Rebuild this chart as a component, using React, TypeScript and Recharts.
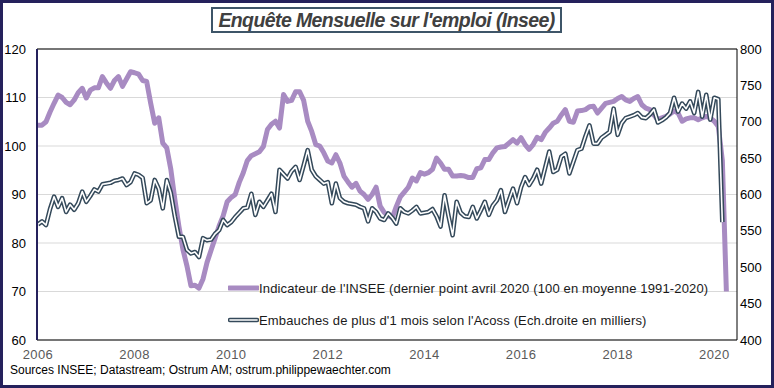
import React from "react";
import {
  LineChart,
  Line,
  XAxis,
  YAxis,
  CartesianGrid,
  ReferenceLine,
} from "recharts";

// Indicateur INSEE, mensuel, janv. 2006 -> avr. 2020
const insee = [
  104.3, 104.3, 105, 107, 108.8, 110.5, 110, 109, 108.5, 109.5, 111, 111.9,
  109.9, 111.5, 112, 112, 114.3, 113, 111.9, 113.5, 114.3, 112.3, 113.8, 115.3,
  115.1, 114.8, 113.5, 113.3, 108.8, 104.7, 105.8, 100.6, 99.6, 95.2, 89, 83.5,
  78.7, 75.3, 71.2, 71.3, 70.7, 72.6, 76, 78.5, 81, 83.5, 85.6, 88.5,
  89.4, 90, 92.5, 94.5, 97, 98, 98.4, 98.8, 99.9, 103.4, 104.5, 105.1,
  103.7, 110.6, 109.2, 109.4, 111.2, 111.2, 109.4, 105.1, 103, 100.3, 100, 98.6,
  96.9, 96.5, 98.2, 96.5, 93.8, 92.6, 91.5, 92.3, 90.7, 90, 89, 90,
  91.5, 87.6, 86.3, 85.6, 85.2, 87.5, 89.5, 90.5, 91.5, 93.4, 92.8, 94.5,
  94.2, 94.5, 95.2, 97.5, 96.5, 95.2, 95.2, 93.8, 93.8, 93.9, 93.8, 93.5,
  93.5, 95.3, 95.5, 97.2, 97.2, 98.6, 99.6, 99.8, 99.9, 100.6, 101.3, 100.6,
  101.7, 100.3, 99.3, 100.3, 101.8, 101.3, 102.8, 103.7, 104.7, 105.1, 106.4, 107.5,
  105.1, 104.9, 107.2, 107.3, 107.5, 108.1, 108.2, 106.8, 107.8, 108.8, 109, 109.2,
  109.8, 110.2, 109.5, 109.2, 109.8, 110.2, 108.5, 107.8, 107.5, 106.4, 105.4, 105.8,
  106.1, 106.6, 107.2, 106.8, 105.1, 105.6, 105.8, 105.8, 105.4, 105.8, 106.1, 105.8,
  105.1, 104, 97, 70,
];

// Embauches > 1 mois (Acoss), milliers, janv. 2006 -> mars 2020
const acoss = [
  559, 563, 558, 580, 597, 583, 595, 576, 586, 579, 588, 604,
  590, 598, 607, 604, 614, 615, 616, 619, 620, 622, 613, 617,
  629, 627, 623, 588, 592, 620, 608, 581, 620, 602, 570, 542,
  542, 524, 519, 521, 514, 540, 537, 538, 546, 551, 565, 558,
  562, 569, 575, 581, 582, 601, 572, 590, 583, 592, 601, 576,
  634, 628, 622, 632, 638, 620, 640, 661, 634, 625, 620, 615,
  617, 588, 615, 595, 590, 588, 587, 586, 583, 581, 563, 581,
  576, 567, 565, 574, 568, 560, 581, 576, 574, 578, 583, 574,
  575, 576, 580, 570, 556, 599, 570, 544, 590, 575, 570, 569,
  583, 567, 578, 590, 572, 585, 592, 606, 576, 592, 608, 588,
  610, 624, 613, 622, 634, 615, 637, 659, 631, 634, 652, 656,
  629, 645, 661, 663, 680, 695, 670, 670, 678, 682, 686, 718,
  682, 698, 705, 707, 709, 712, 706, 705, 710, 717, 699, 702,
  706, 712, 733, 714, 725, 718, 728, 712, 741, 707, 737, 703,
  733, 731, 562,
];

const yearTicks = [2006, 2008, 2010, 2012, 2014, 2016, 2018, 2020];
const leftTicks = [60, 70, 80, 90, 100, 110, 120];
const rightTicks = [400, 450, 500, 550, 600, 650, 700, 750, 800];

const data = insee.map((v, i) => ({
  t: 2006 + i / 12,
  insee: v,
  acoss: i < acoss.length ? acoss[i] : null,
}));

const FONT = '"Liberation Sans", Arial, sans-serif';
const PURPLE = "#a88bc2";
const SLATE = "#34495a";

export default function App() {
  return (
    <div
      style={{
        position: "absolute",
        left: 0,
        top: 0,
        width: 774,
        height: 388,
        background: "#fff",
        fontFamily: FONT,
      }}
    >
      <LineChart
        width={774}
        height={388}
        data={data}
        margin={{ top: 49, right: 0, left: 0, bottom: 28 }}
      >
        <CartesianGrid
          yAxisId="left"
          vertical={false}
          stroke="#d9d9d9"
          strokeWidth={1}
        />
        <XAxis
          dataKey="t"
          type="number"
          domain={[2005.98, 2020.47]}
          ticks={yearTicks}
          allowDataOverflow
          height={20}
          tickLine={false}
          tickSize={0}
          tickMargin={10}
          axisLine={{ stroke: "#000" }}
          tick={{ fill: "#595959", fontSize: 13, fontFamily: FONT, letterSpacing: 0.4 }}
        />
        <YAxis
          yAxisId="left"
          domain={[60, 120]}
          ticks={leftTicks}
          width={37}
          tickLine={false}
          tickSize={0}
          tickMargin={11}
          axisLine={{ stroke: "#25215c", strokeWidth: 2 }}
          tick={{ fill: "#000", fontSize: 13, fontFamily: FONT }}
        />
        <YAxis
          yAxisId="right"
          orientation="right"
          domain={[400, 800]}
          ticks={rightTicks}
          width={37}
          tickLine={false}
          tickSize={0}
          tickMargin={3}
          axisLine={{ stroke: "#000" }}
          tick={{ fill: "#000", fontSize: 13, fontFamily: FONT }}
        />
        <ReferenceLine yAxisId="left" y={120} stroke="#000" />
        <Line
          yAxisId="left"
          dataKey="insee"
          stroke={PURPLE}
          strokeWidth={5}
          dot={false}
          strokeLinejoin="round"
          isAnimationActive={false}
        />
        <Line
          yAxisId="right"
          dataKey="acoss"
          stroke={SLATE}
          strokeWidth={4.6}
          dot={false}
          strokeLinejoin="round"
          connectNulls={false}
          isAnimationActive={false}
        />
        <Line
          yAxisId="right"
          dataKey="acoss"
          stroke="#fff"
          strokeWidth={1.6}
          dot={false}
          strokeLinejoin="round"
          connectNulls={false}
          isAnimationActive={false}
        />
      </LineChart>

      {/* titre */}
      <div
        style={{
          position: "absolute",
          left: 211,
          top: 7,
          width: 351,
          height: 26,
          boxSizing: "border-box",
          border: "2px solid #3e5568",
          display: "flex",
          alignItems: "center",
          justifyContent: "center",
          fontWeight: "bold",
          fontStyle: "italic",
          fontSize: 19.5,
          letterSpacing: -0.6,
          color: "#404040",
          whiteSpace: "nowrap",
        }}
      >
        Enquête Mensuelle sur l'emploi (Insee)
      </div>

      {/* légende */}
      <div style={{ position: "absolute", left: 228, top: 279, fontSize: 13, color: "#1a1a1a", letterSpacing: 0.15 }}>
        <div style={{ display: "flex", alignItems: "center", height: 18 }}>
          <svg width={31} height={8}>
            <line x1={1} y1={4} x2={30} y2={4} stroke={PURPLE} strokeWidth={5} strokeLinecap="round" />
          </svg>
          <span style={{ whiteSpace: "nowrap" }}>
            Indicateur de l'INSEE (dernier point avril 2020 (100 en moyenne 1991-2020)
          </span>
        </div>
        <div style={{ display: "flex", alignItems: "center", height: 18, marginTop: 14 }}>
          <svg width={31} height={8}>
            <line x1={2} y1={4} x2={29} y2={4} stroke={SLATE} strokeWidth={4.6} strokeLinecap="round" />
            <line x1={2} y1={4} x2={29} y2={4} stroke="#fff" strokeWidth={1.6} strokeLinecap="round" />
          </svg>
          <span style={{ whiteSpace: "nowrap" }}>
            Embauches de plus d'1 mois selon l'Acoss (Ech.droite en milliers)
          </span>
        </div>
      </div>

      {/* source */}
      <div
        style={{
          position: "absolute",
          left: 10,
          top: 363,
          fontSize: 12,
          color: "#000",
          whiteSpace: "nowrap",
        }}
      >
        Sources INSEE; Datastream; Ostrum AM; ostrum.philippewaechter.com
      </div>

      {/* cadre */}
      <div
        style={{
          position: "absolute",
          left: 0,
          top: 0,
          width: 774,
          height: 388,
          boxSizing: "border-box",
          border: "3px solid #25215c",
          pointerEvents: "none",
        }}
      />
    </div>
  );
}
